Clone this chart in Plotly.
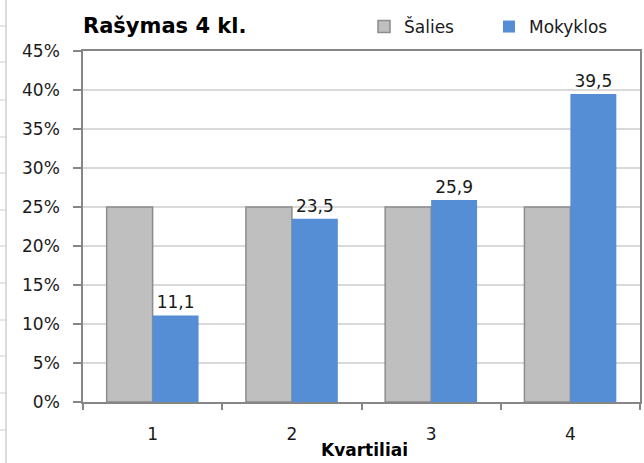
import plotly.graph_objects as go

categories = ["1", "2", "3", "4"]
salies = [25, 25, 25, 25]
mokyklos = [11.1, 23.5, 25.9, 39.5]
y_ticks = [0, 5, 10, 15, 20, 25, 30, 35, 40, 45]
y_ticktext = [f"{v}%" for v in y_ticks]

FONT = "DejaVu Sans"
TXT = "#1a1a1a"
AX = "#868686"

fig = go.Figure()
fig.add_trace(go.Bar(
    name="Šalies", x=categories, y=salies,
    marker=dict(color="#BFBFBF", line=dict(color="#8C8C8C", width=1.5)),
))
fig.add_trace(go.Bar(
    name="Mokyklos", x=categories, y=mokyklos,
    marker=dict(color="#558ED5", line=dict(width=0)),
    texttemplate="%{y:.1f}", textposition="outside",
    textfont=dict(family=FONT, size=17, color=TXT),
    cliponaxis=False,
))

# spreadsheet row/column lines visible at the left edge
W, H = 644, 463
L, R, T, B = 83, 4, 51, 61
pw, ph = W - L - R, H - T - B
def px(x):
    return (x - L) / pw
def py(y):
    return (H - B - y) / ph
shapes = [dict(type="line", xref="paper", yref="paper", x0=px(6), x1=px(6),
               y0=py(0), y1=py(463), line=dict(color="#CFCFCF", width=1.5))]
rows = [26, 62, 100, 137, 173, 210, 246, 283, 320, 356, 393, 430]
for r in rows:
    shapes.append(dict(type="line", xref="paper", yref="paper", x0=px(0), x1=px(6),
                       y0=py(r), y1=py(r), line=dict(color="#CFCFCF", width=1)))

fig.update_layout(
    width=W, height=H,
    margin=dict(l=L, r=R, t=T, b=B, autoexpand=False),
    paper_bgcolor="white", plot_bgcolor="white",
    separators=",.",
    barmode="group", bargap=0.34, bargroupgap=0,
    font=dict(family=FONT, size=17, color=TXT),
    title=dict(text="<b>Rašymas 4 kl.</b>", x=0, xref="paper", xanchor="left",
               y=1 - 26 / H, yref="container", yanchor="middle",
               font=dict(family=FONT, size=21, color="#000000")),
    showlegend=True,
    legend=dict(orientation="h", x=px(364), xanchor="left", y=1 + 24 / ph, yanchor="middle",
                font=dict(family=FONT, size=17, color=TXT),
                entrywidth=80, entrywidthmode="pixels",
                bgcolor="rgba(0,0,0,0)", itemclick=False),
    xaxis=dict(type="category", showline=True, linecolor=AX, linewidth=1.5, mirror=True,
               ticks="outside", tickson="boundaries", ticklen=6, tickcolor=AX, tickwidth=1.5,
               showgrid=False, ticklabelstandoff=16, automargin=False,
               tickfont=dict(family=FONT, size=17, color=TXT)),
    yaxis=dict(range=[0, 45], tickvals=y_ticks, ticktext=y_ticktext,
               showline=True, linecolor=AX, linewidth=1.5, mirror=True,
               ticks="outside", ticklen=8, tickcolor=AX, tickwidth=1.5,
               showgrid=True, gridcolor="#D9D9D9", gridwidth=1.5,
               zeroline=False, ticklabelstandoff=10, automargin=False,
               tickfont=dict(family=FONT, size=17, color=TXT)),
    annotations=[dict(text="<b>Kvartiliai</b>", xref="paper", yref="paper",
                      x=px(365), y=-(450 - (H - B)) / ph, xanchor="center", yanchor="middle",
                      showarrow=False, font=dict(family=FONT, size=17, color="#000000"))],
    shapes=shapes,
)

fig.write_html("out.html", config={"displayModeBar": False},
               post_script="document.body.style.margin='0px';document.body.style.padding='0px';")
